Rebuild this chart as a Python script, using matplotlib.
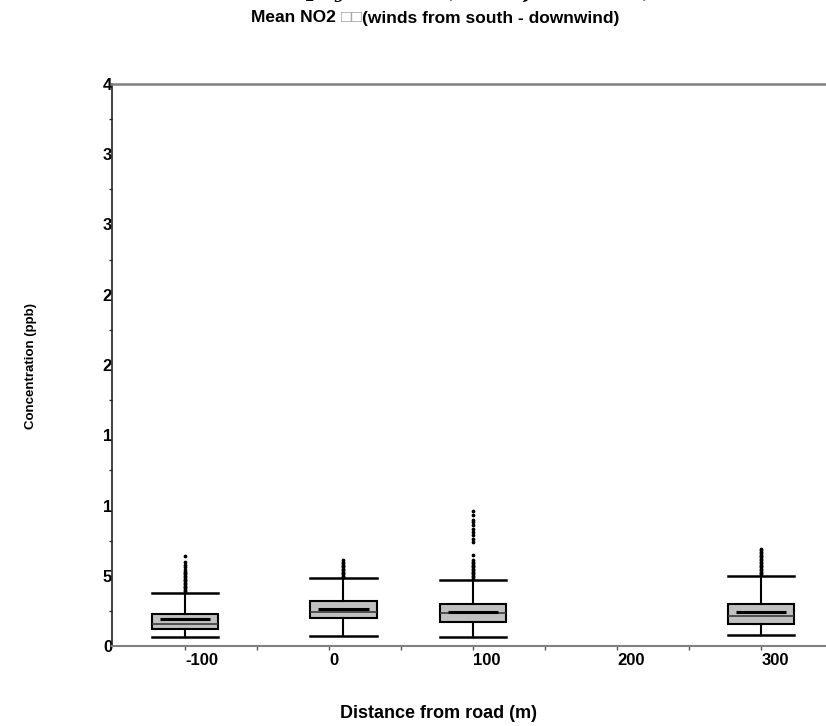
import matplotlib
matplotlib.use("Agg")
import matplotlib.pyplot as plt
from matplotlib.ticker import MultipleLocator, FixedLocator

plt.rcParams['font.family'] = ['Liberation Sans', 'DejaVu Sans']
plt.rcParams['font.weight'] = 'bold'

# distance of each box (m) and box statistics (ppb)
positions = [-100, 10, 100, 300]
whislo = [0.65, 0.7, 0.64, 0.8]
q1 = [1.2, 2.0, 1.7, 1.6]
med = [1.6, 2.45, 2.35, 2.1]
mean = [1.9, 2.65, 2.4, 2.4]
q3 = [2.3, 3.2, 3.0, 3.0]
whishi = [3.8, 4.86, 4.7, 5.0]
fliers = [
    [3.9, 4.0, 4.1, 4.2, 4.3, 4.4, 4.5, 4.6, 4.7, 4.8, 4.9, 5.0, 5.1, 5.2,
     5.3, 5.4, 5.6, 5.8, 6.0, 6.4],
    [4.9, 5.0, 5.1, 5.2, 5.3, 5.4, 5.5, 5.6, 5.7, 5.8, 5.9, 6.0, 6.1],
    [4.8, 4.9, 5.0, 5.1, 5.2, 5.3, 5.4, 5.5, 5.6, 5.7, 5.8, 5.9, 6.0, 6.1,
     6.5, 7.4, 7.6, 7.9, 8.1, 8.3, 8.6, 8.8, 9.0, 9.3, 9.6],
    [5.1, 5.2, 5.3, 5.4, 5.5, 5.6, 5.7, 5.8, 5.9, 6.0, 6.1, 6.2, 6.3, 6.4,
     6.5, 6.6, 6.7, 6.8, 6.9],
]

xticks = [-100, 0, 100, 200, 300]
yticks = [0, 5, 10, 15, 20, 25, 30, 35, 40]
ytick_labels = ['0', '5', '1', '1', '2', '2', '3', '3', '4']

W, H = 826, 726
fig = plt.figure(figsize=(W / 100, H / 100), dpi=100)
ax = fig.add_axes([112 / W, 80 / H, 1 - 112 / W, (646 - 84) / H])

stats = []
for i in range(len(positions)):
    stats.append(dict(whislo=whislo[i], q1=q1[i], med=med[i], q3=q3[i],
                      whishi=whishi[i], fliers=fliers[i]))

ax.bxp(stats, positions=positions, widths=46, capwidths=46,
       patch_artist=True, showfliers=True,
       boxprops=dict(facecolor='#c0c0c0', edgecolor='black', linewidth=1.5),
       medianprops=dict(color='#3a3a3a', linewidth=1.2),
       whiskerprops=dict(color='black', linewidth=1.5),
       capprops=dict(color='black', linewidth=1.8),
       flierprops=dict(marker='o', markersize=1.7, markerfacecolor='black',
                       markeredgecolor='black', linestyle='none'))

# mean as a short thick line inside each box
for p, m in zip(positions, mean):
    ax.hlines(m, p - 17.5, p + 17.5, color='black', linewidth=2.2, zorder=5)

ax.set_xlim(-150.7, 345)
ax.set_ylim(0, 40)

ax.xaxis.set_major_locator(FixedLocator(xticks))
ax.xaxis.set_minor_locator(FixedLocator([-50, 50, 150, 250]))
ax.set_xticklabels([str(t) for t in xticks])
for lab in ax.get_xticklabels():
    lab.set_horizontalalignment('left')
ax.yaxis.set_major_locator(FixedLocator(yticks))
ax.yaxis.set_minor_locator(MultipleLocator(2.5))
ax.set_yticklabels(ytick_labels)

ax.tick_params(axis='x', which='both', direction='out', length=3, width=1,
               color='#555555', labelsize=12, pad=2)
ax.tick_params(axis='y', which='major', length=0, labelsize=12, pad=0)
ax.tick_params(axis='y', which='minor', direction='out', length=2.5, width=1,
               color='#333333')

ax.spines['right'].set_visible(False)
ax.spines['top'].set_color('#808080')
ax.spines['top'].set_linewidth(1.8)
ax.spines['bottom'].set_color('#808080')
ax.spines['bottom'].set_linewidth(1.5)
ax.spines['left'].set_color('#222222')
ax.spines['left'].set_linewidth(1.2)

# cut-off main title above the figure edge, only descenders show
fig.text(349 / W, 1 + 2 / H, 'Mean NO$_2$ by', ha='right', va='baseline',
         fontsize=14, style='italic', family=['DejaVu Serif'])
fig.text(445 / W, 1 + 2 / H, '(winds from south)', ha='left', va='baseline',
         fontsize=14, style='italic', family=['DejaVu Serif'])

# subtitle in three pieces so the missing-glyph boxes stay light grey
parts = ['Mean NO2 ', '\u25a1\u25a1', '(winds from south - downwind)']
colors = ['black', '#a0a0a0', 'black']
renderer = fig.canvas.get_renderer()
texts = [fig.text(0, 1 - 18 / H, s, ha='left', va='center', fontsize=12.5,
                  color=c, weight='normal' if c != 'black' else 'bold')
         for s, c in zip(parts, colors)]
widths = [t.get_window_extent(renderer).width for t in texts]
x = 435 - sum(widths) / 2
for t, w in zip(texts, widths):
    t.set_x(x / W)
    x += w

fig.text(439 / W, 1 - 713 / H, 'Distance from road (m)',
         ha='center', va='center', fontsize=13)
fig.text(31 / W, 1 - 366 / H, 'Concentration (ppb)', rotation=90,
         ha='center', va='center', fontsize=9.5)

fig.savefig('out.png', dpi=100)
